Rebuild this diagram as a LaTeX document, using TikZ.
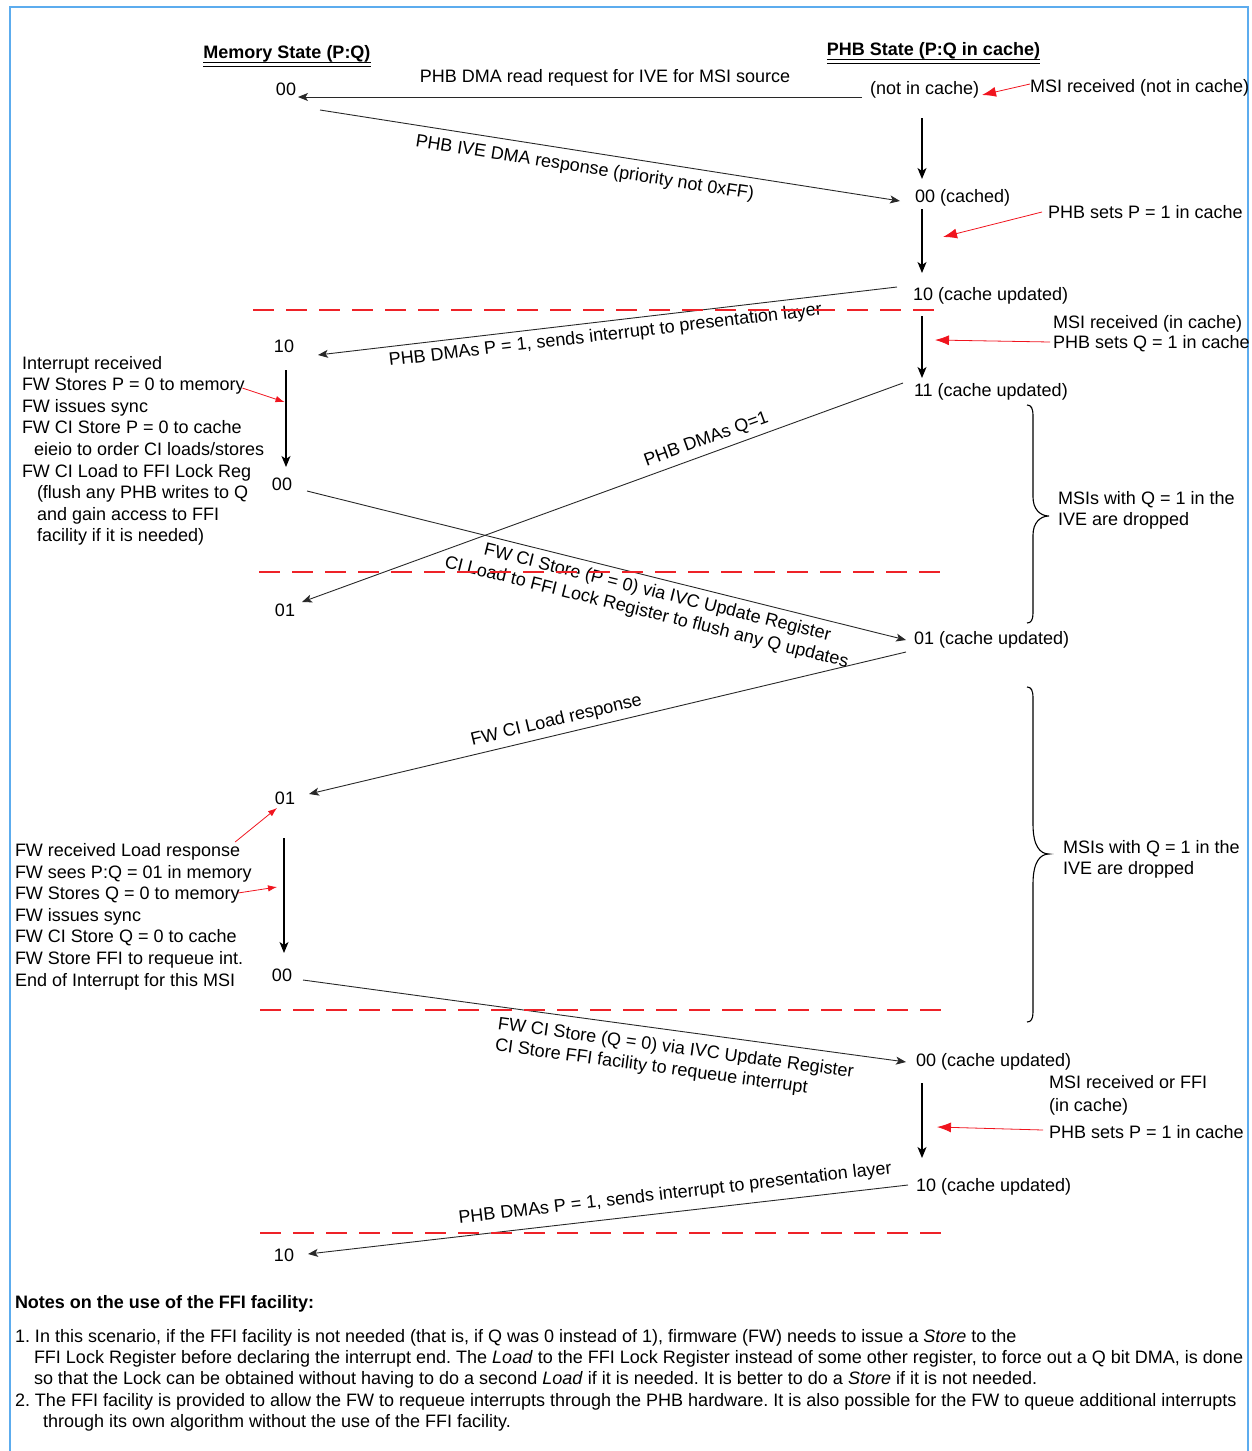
\documentclass[tikz,border=0pt]{standalone}
\usepackage{fontspec}
\setmainfont{Liberation Sans}
\usetikzlibrary{arrows.meta}
\definecolor{frameblue}{RGB}{92,172,238}
\definecolor{phasered}{RGB}{238,34,40}
\definecolor{hintred}{RGB}{240,20,30}
\definecolor{flowgray}{RGB}{40,40,40}
\frenchspacing

\begin{document}
\begin{tikzpicture}[x=1pt,y=-1pt,
  txt/.style={font=\fontsize{18}{21.6}\selectfont, inner sep=0pt, outer sep=0pt},
  textline/.style={txt, anchor=base west},
  boldline/.style={textline, font=\fontsize{18}{21.6}\selectfont\bfseries},
  hdr/.style={txt, font=\fontsize{18}{21.6}\selectfont\bfseries, anchor=base},
  memstate/.style={txt, anchor=base},
  phbstate/.style={txt, anchor=base west},
  slanted/.style={txt, anchor=base},
  slantedpair/.style={txt, anchor=center, align=left},
  flow/.style={draw=flowgray, line width=0.9pt, -{Stealth[length=10pt,width=8pt,inset=2.5pt]}},
  tick/.style={draw=black, line width=1.4pt, -{Stealth[length=11pt,width=9pt,inset=3pt]}},
  hint/.style={draw=hintred, line width=0.8pt, -{Latex[length=14pt,width=10pt]}},
  smallhint/.style={draw=hintred, line width=0.8pt, -{Latex[length=9pt,width=6.5pt]}},
  phase/.style={draw=phasered, line width=1.3pt, dash pattern=on 21pt off 12pt},
  bracepath/.style={draw=black, line width=1.1pt},
]
\useasboundingbox (0,0) rectangle (1251,1451);

% frame
\draw[frameblue, line width=2.5pt] (10,1460) -- (10,7) -- (1248,7) -- (1248,1460);

% column headers
\node[hdr] (memhdr) at (287,58) {Memory State (P:Q)};
\node[hdr] (phbhdr) at (933.5,55) {PHB State (P:Q in cache)};
\foreach \d in {4.5,8.5} {
  \draw[line width=1.3pt] ([shift={(0,\d)}]memhdr.base west) -- ([shift={(0,\d)}]memhdr.base east);
  \draw[line width=1.3pt] ([shift={(0,\d)}]phbhdr.base west) -- ([shift={(0,\d)}]phbhdr.base east);
}

% memory states
\node[memstate] (m1) at (286,95.5) {00};
\node[memstate] (m2) at (284,352.5) {10};
\node[memstate] (m3) at (282,490.5) {00};
\node[memstate] (m4) at (285,616.5) {01};
\node[memstate] (m5) at (285,804.5) {01};
\node[memstate] (m6) at (282,981.5) {00};
\node[memstate] (m7) at (284,1261.5) {10};

% PHB cache states
\node[phbstate] (p0) at (870,94.5) {(not in cache)};
\node[phbstate] (p1) at (915,202.5) {00 (cached)};
\node[phbstate] (p2) at (913,300.5) {10 (cache updated)};
\node[phbstate] (p3) at (914,396.5) {11 (cache updated)};
\node[phbstate] (p4) at (914,644.5) {01 (cache updated)};
\node[phbstate] (p5) at (916,1066.5) {00 (cache updated)};
\node[phbstate] (p6) at (916,1191.5) {10 (cache updated)};

% state changes inside the PHB
\draw[tick] ([shift={(52,23.5)}]p0.base west) -- ([shift={(7,-23.5)}]p1.base west);
\draw[tick] ([shift={(7,6.5)}]p1.base west) -- ([shift={(9,-27.5)}]p2.base west);
\draw[tick] ([shift={(9,15.5)}]p2.base west) -- ([shift={(8,-18.5)}]p3.base west);
\draw[tick] ([shift={(6,16.5)}]p5.base west) -- ([shift={(6,-33.5)}]p6.base west);

% state changes in memory
\draw[tick] ([shift={(2,17.5)}]m2.base) -- ([shift={(4,-23.5)}]m3.base);
\draw[tick] ([shift={(-1,33.5)}]m5.base) -- ([shift={(2,-28.5)}]m6.base);

% transfers between memory and PHB
\draw[flow] ([shift={(-8,2.5)}]p0.base west) -- ([shift={(12,1.5)}]m1.base);
\draw[flow] ([shift={(34,14.5)}]m1.base) -- ([shift={(-15,-1.5)}]p1.base west);
\draw[flow] ([shift={(-16,-13.5)}]p2.base west) -- ([shift={(34,2.5)}]m2.base);
\draw[flow] ([shift={(-11,-13.5)}]p3.base west) -- ([shift={(17,-14.5)}]m4.base);
\draw[flow] ([shift={(25,0.5)}]m3.base) -- ([shift={(-8,-4.5)}]p4.base west);
\draw[flow] ([shift={(-8,7.5)}]p4.base west) -- ([shift={(24,-10.5)}]m5.base);
\draw[flow] ([shift={(21,-1.5)}]m6.base) -- ([shift={(-10,-4.5)}]p5.base west);
\draw[flow] ([shift={(-8,-6.5)}]p6.base west) -- ([shift={(24,-7.5)}]m7.base);

% transfer labels
\node[slanted] (t1) at (605,82.5) {PHB DMA read request for IVE for MSI source};
\node[slanted, rotate=-8.9] (t2) at (584,173) {PHB IVE DMA response (priority not 0xFF)};
\node[slanted, rotate=6.7] (t3) at (606,340.5) {PHB DMAs P = 1, sends interrupt to presentation layer};
\node[slanted, rotate=20] (t4) at (708,444) {PHB DMAs Q=1};
\node[slantedpair, rotate=-14] (t5) at (649.1,602.3)
  {\hspace*{35pt}FW CI Store (P = 0) via IVC Update Register\\CI Load to FFI Lock Register to flush any Q updates};
\node[slanted, rotate=13.4] (t6) at (557.5,725.3) {FW CI Load response};
\node[slantedpair, rotate=-7.7] (t7) at (674.3,1059.5)
  {FW CI Store (Q = 0) via IVC Update Register\\CI Store FFI facility to requeue interrupt};
\node[slanted, rotate=6.6] (t8) at (675.7,1198.5) {PHB DMAs P = 1, sends interrupt to presentation layer};

% phase separators
\draw[phase] (253,310) -- (938,310);
\draw[phase] (259,572) -- (940,572);
\draw[phase] (260,1010) -- (950,1010);
\draw[phase] (260,1233) -- (950,1233);

% events on the PHB side
\node[textline] (n1) at (1030,92.5) {MSI received (not in cache)};
\node[textline] (n2) at (1048,218.5) {PHB sets P = 1 in cache};
\node[textline] (n3a) at (1053,328.5) {MSI received (in cache)};
\node[textline] (n3b) at (1053,348.5) {PHB sets Q = 1 in cache};
\node[textline] (n5a) at (1049,1088.5) {MSI received or FFI};
\node[textline] (n5b) at (1049,1111.5) {(in cache)};
\node[textline] (n5c) at (1049,1138.5) {PHB sets P = 1 in cache};

\draw[hint] ([shift={(0,-8.5)}]n1.base west) -- ([shift={(112,0.5)}]p0.base west);
\draw[hint] ([shift={(-6,-6.5)}]n2.base west) -- ([shift={(28,34.5)}]p1.base west);
\draw[hint] ([shift={(-3,-6.5)}]n3b.base west) -- ([shift={(22,39.5)}]p2.base west);
\draw[hint] ([shift={(-6,-8.5)}]n5c.base west) -- ([shift={(21,60.5)}]p5.base west);

% firmware actions, first interrupt
\node[textline] (fa1) at (22,369) {Interrupt received};
\node[textline] (fa2) at (22,390.6) {FW Stores P = 0 to memory};
\node[textline] (fa3) at (22,412.2) {FW issues sync};
\node[textline] (fa4) at (22,433.8) {FW CI Store P = 0 to cache};
\node[textline] (fa5) at (34,455.4) {eieio to order CI loads/stores};
\node[textline] (fa6) at (22,477) {FW CI Load to FFI Lock Reg};
\node[textline] (fa7) at (37,498.6) {(flush any PHB writes to Q};
\node[textline] (fa8) at (37,520.2) {and gain access to FFI};
\node[textline] (fa9) at (37,541.8) {facility if it is needed)};
\draw[smallhint] ([shift={(-2,-2.5)}]fa2.base east) -- ([shift={(0.5,49.5)}]m2.base);

% firmware actions, load response
\node[textline] (fb1) at (15,856.5) {FW received Load response};
\node[textline] (fb2) at (15,878.1) {FW sees P:Q = 01 in memory};
\node[textline] (fb3) at (15,899.7) {FW Stores Q = 0 to memory};
\node[textline] (fb4) at (15,921.3) {FW issues sync};
\node[textline] (fb5) at (15,942.9) {FW CI Store Q = 0 to cache};
\node[textline] (fb6) at (15,964.5) {FW Store FFI to requeue int.};
\node[textline] (fb7) at (15,986.1) {End of Interrupt for this MSI};
\draw[smallhint] ([shift={(-5,-14.5)}]fb1.base east) -- ([shift={(-8,3.5)}]m5.base);
\draw[smallhint] ([shift={(-1.6,-6.7)}]fb3.base east) -- ([shift={(-8,82.5)}]m5.base);

% windows in which MSIs are dropped
\draw[bracepath] (1027,405) .. controls (1031,405) and (1033,408) .. (1033,416) -- (1033,497)
  .. controls (1033,509) and (1040,516) .. (1049,516)
  .. controls (1040,516) and (1033,523) .. (1033,535) -- (1033,613)
  .. controls (1033,620) and (1031,623) .. (1027,623);
\node[textline] (d1a) at (1058,504.5) {MSIs with Q = 1 in the};
\node[textline] (d1b) at (1058,525.5) {IVE are dropped};

\draw[bracepath] (1027,687) .. controls (1031,687) and (1033,690) .. (1033,698) -- (1033,824)
  .. controls (1033,846) and (1040,854) .. (1049,854)
  .. controls (1040,854) and (1033,862) .. (1033,884) -- (1033,1012)
  .. controls (1033,1019) and (1031,1022) .. (1027,1022);
\node[textline] (d2a) at (1063,853) {MSIs with Q = 1 in the};
\node[textline] (d2b) at (1063,874.5) {IVE are dropped};

% notes
\node[boldline] (notes) at (15,1308.5) {Notes on the use of the FFI facility:};
\node[textline] (note1a) at (15,1342.5) {1. In this scenario, if the FFI facility is not needed (that is, if Q was 0 instead of 1), firmware (FW) needs to issue a \textit{Store} to the};
\node[textline] (note1b) at (34,1363.5) {FFI Lock Register before declaring the interrupt end. The \textit{Load} to the FFI Lock Register instead of some other register, to force out a Q bit DMA, is done};
\node[textline] (note1c) at (34,1384.5) {so that the Lock can be obtained without having to do a second \textit{Load} if it is needed. It is better to do a \textit{Store} if it is not needed.};
\node[textline] (note2a) at (15,1406.5) {2. The FFI facility is provided to allow the FW to requeue interrupts through the PHB hardware. It is also possible for the FW to queue additional interrupts};
\node[textline] (note2b) at (43,1427.5) {through its own algorithm without the use of the FFI facility.};
\end{tikzpicture}
\end{document}
